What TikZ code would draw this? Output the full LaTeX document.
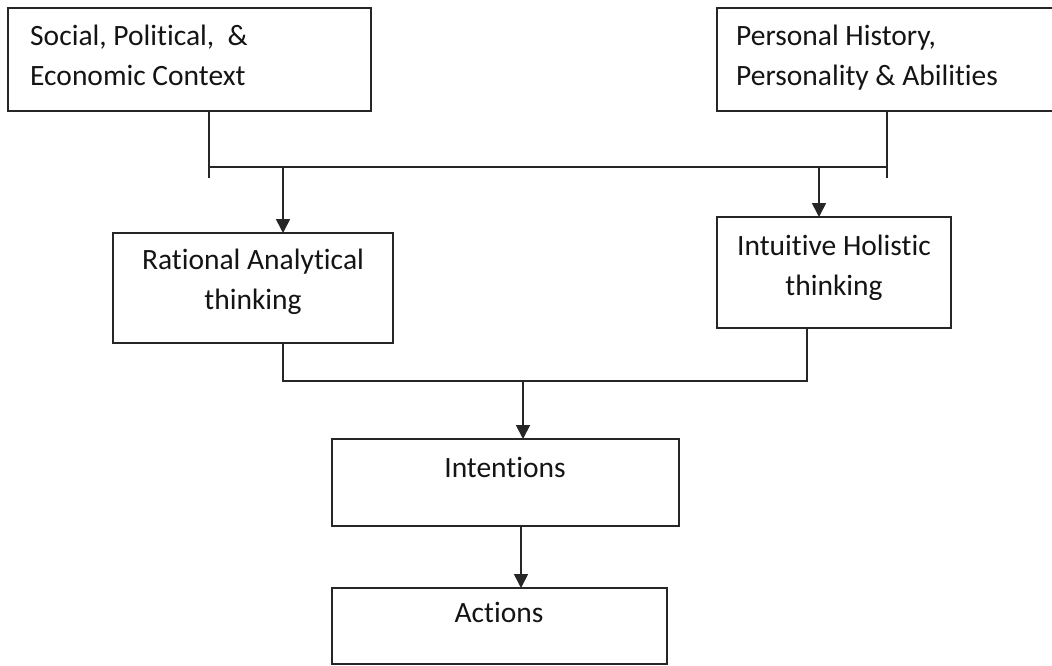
\documentclass[tikz,border=0pt]{standalone}
\usepackage{fontspec}
\setmainfont{Carlito}[Ligatures={NoCommon,NoContextual}]
\usetikzlibrary{arrows.meta}
\begin{document}
\begin{tikzpicture}[x=1pt,y=-1pt,
  box/.style={draw=black!85, line width=1.7pt, outer sep=0pt, inner sep=0pt, anchor=north west, fill=white},
  lbl/.style={inner sep=0pt, font=\fontsize{29.5}{40}\selectfont, text=black!92},
  conn/.style={draw=black!85, line width=1.7pt},
  arr/.style={conn, -{Triangle[length=14pt,width=14pt]}}]
\useasboundingbox (0,0) rectangle (1052,665);
\clip (0,0) rectangle (1052,665);
\fill[white] (0,0) rectangle (1052,665);
% boxes
\node[box, minimum width=363pt, minimum height=103pt] (b1) at (8,8) {};
\node[box, minimum width=345pt, minimum height=103pt] (b2) at (717,8) {};
\node[box, minimum width=280pt, minimum height=110pt] (b3) at (113,233) {};
\node[box, minimum width=234pt, minimum height=111pt] (b4) at (717,217) {};
\node[box, minimum width=347pt, minimum height=87pt] (b5) at (332,439) {};
\node[box, minimum width=335pt, minimum height=76pt] (b6) at (332,588) {};
% labels (anchor = baseline of last line)
\node[lbl, anchor=base west, align=left] (l1) at (30,85) {Social, Political,~ \&\\Economic Context};
\node[lbl, anchor=base west, align=left] (l2) at (736,85) {Personal History,\\Personality \& Abilities};
\node[lbl, anchor=base, align=center] (l3) at (253,309) {Rational Analytical\\thinking};
\node[lbl, anchor=base, align=center] (l4) at (834,295) {Intuitive Holistic\\thinking};
\node[lbl, anchor=base] (l5) at (505,477) {Intentions};
\node[lbl, anchor=base] (l6) at (499,622) {Actions};
% junction coordinates
\coordinate (t1) at (209,178);
\coordinate (t2) at (887,178);
\coordinate (h1l) at (209,167);
\coordinate (h1r) at (887,167);
\coordinate (a1) at (283,167);
\coordinate (a2) at (819,167);
\coordinate (h2l) at (283,381);
\coordinate (h2r) at (807,381);
\coordinate (a3) at (523,381);
\coordinate (a4) at (521,526);
% connectors
\draw[conn] (b1.south -| t1) -- (t1);
\draw[conn] (b2.south -| t2) -- (t2);
\draw[conn] (h1l) -- (h1r);
\draw[arr] (a1) -- (b3.north -| a1);
\draw[arr] (a2) -- (b4.north -| a2);
\draw[conn] (b3.south -| h2l) -- (h2l) -- (h2r) -- (b4.south -| h2r);
\draw[arr] (a3) -- (b5.north -| a3);
\draw[arr] (b5.south -| a4) -- (b6.north -| a4);
\end{tikzpicture}
\end{document}
